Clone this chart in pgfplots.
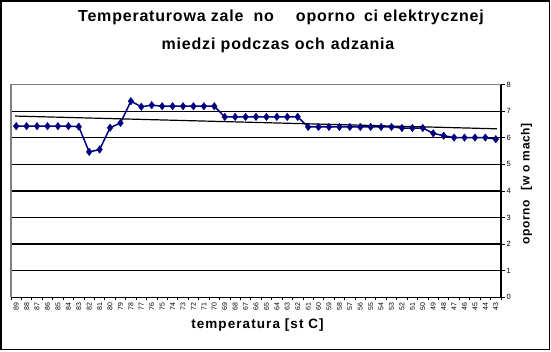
\documentclass[border=0pt]{standalone}
\usepackage{pgfplots}
\pgfplotsset{compat=1.18}
\usepackage{fontspec}
\setmainfont{Liberation Sans}
\definecolor{navyline}{RGB}{0,0,128}
\definecolor{plotgray}{RGB}{128,128,128}
\begin{document}
\begin{tikzpicture}[x=1pt,y=1pt]
\useasboundingbox (0,0) rectangle (551,352);
\draw[black,line width=1.5pt] (1,2.5) rectangle (549.5,351.2);
\begin{axis}[
  at={(11pt,54.7pt)}, anchor=south west,
  scale only axis, width=490pt, height=212.6pt,
  xmin=-0.5, xmax=46.5, ymin=0, ymax=8,
  axis x line*=bottom, axis y line*=right,
  axis line style={black, line width=1.3pt},
  xtick={0,...,46},
  xticklabels={89,88,87,86,85,84,83,82,81,80,79,78,77,76,75,74,73,72,71,70,69,68,67,66,65,64,63,62,61,60,59,58,57,56,55,54,53,52,51,50,49,48,47,46,45,44,43},
  minor xtick={-0.5,0.5,...,46.5},
  major x tick style={draw=none},
  minor x tick style={black, line width=0.8pt},
  minor tick length=3pt,
  ytick={0,...,8},
  major y tick style={black, line width=0.8pt},
  major tick length=4pt,
  tick align=outside,
  ymajorgrids,
  grid style={black, line width=1.3pt},
  /pgf/number format/assume math mode=true,
  x tick label style={rotate=90, anchor=east, font=\fontsize{7}{7}\selectfont, inner sep=1pt},
  y tick label style={font=\fontsize{7.5}{7.5}\selectfont, inner sep=1.5pt},
  clip=false,
]
\addplot[navyline, line width=1.5pt, mark=diamond*, mark size=3.8pt, mark options={fill=navyline, draw=navyline, line width=0.3pt}] coordinates {
(0,6.44) (1,6.44) (2,6.44) (3,6.44) (4,6.44) (5,6.44) (6,6.42) (7,5.47) (8,5.56) (9,6.38)
(10,6.56) (11,7.38) (12,7.17) (13,7.23) (14,7.19) (15,7.19) (16,7.19) (17,7.19) (18,7.19) (19,7.19)
(20,6.79) (21,6.79) (22,6.79) (23,6.79) (24,6.79) (25,6.79) (26,6.79) (27,6.79)
(28,6.41) (29,6.41) (30,6.41) (31,6.41) (32,6.41) (33,6.41) (34,6.41) (35,6.41) (36,6.41)
(37,6.37) (38,6.37) (39,6.37) (40,6.17) (41,6.08) (42,6.01) (43,6.01) (44,6.01) (45,6.01) (46,5.95)
};
\addplot[black, line width=1.2pt] coordinates {(-0.1,6.82) (46.1,6.34)};
\draw[plotgray, line width=1.5pt] (rel axis cs:0,0) -- (rel axis cs:0,1) -- (rel axis cs:1,1);
\end{axis}
\node[font=\bfseries\fontsize{16}{16}\selectfont\addfontfeature{LetterSpace=5}] at (281,335) {Temperaturowa zale\hspace{10pt}no\hspace{22pt}oporno\hspace{9pt}ci elektrycznej};
\node[font=\bfseries\fontsize{16}{16}\selectfont\addfontfeature{LetterSpace=5}] at (278,307) {miedzi podczas och\hspace{6pt}adzania};
\node[font=\bfseries\fontsize{13.5}{13.5}\selectfont\addfontfeature{LetterSpace=8}] at (257.5,27) {temperatura [st C]};
\node[rotate=90, font=\bfseries\fontsize{12}{12}\selectfont\addfontfeature{LetterSpace=5}] at (526.5,168) {oporno\hspace{10pt}[w o mach]};
\end{tikzpicture}
\end{document}
